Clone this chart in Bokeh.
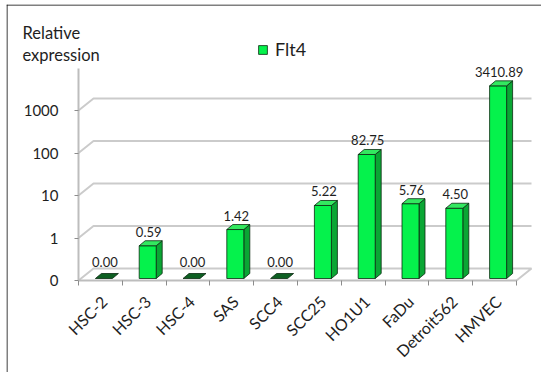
import math
from bokeh.plotting import figure
from bokeh.models import (LinearAxis, LogAxis, FixedTicker, Range1d, Label,
                          Legend, LegendItem, ColumnDataSource, Span)
from bokeh.embed import file_html
from bokeh.resources import INLINE
from bokeh.core.properties import value

# ---------------- data ----------------
categories = ["HSC-2", "HSC-3", "HSC-4", "SAS", "SCC4", "SCC25",
              "HO1U1", "FaDu", "Detroit562", "HMVEC"]
flt4 = [0.00, 0.59, 0.00, 1.42, 0.00, 5.22, 82.75, 5.76, 4.50, 3410.89]
y_ticks = [0.1, 1, 10, 100, 1000]
y_tick_labels = ["0", "1", "10", "100", "1000"]
series_name = "Flt4"
y_title = "Relative\nexpression"

# ---------------- layout constants (pixels) ----------------
W, H = 541, 372
FL, FT = 6, 4            # frame left / top
AX_X, AX_R = 78, 516     # pixel of x=0 and x=N on the front plane
Y0_PX, DEC = 280, 42.5   # pixel of axis floor, pixels per decade
N = len(categories)
PXU = (AX_R - AX_X) / N
FLOOR = y_ticks[0]

def fx(px):
    return px / PXU

def fy(px):
    return 10 ** (px / DEC)

FONT = "Lato"
TXT = "#1e1e1e"
GRID = "#cbcbcb"
AXC = "#bdbdbd"
TICKC = "#8c8c8c"

xr0 = -(AX_X - FL) / PXU
yr1 = FLOOR * 10 ** ((Y0_PX - FT) / DEC)
p = figure(width=W, height=H, output_backend="svg", toolbar_location=None,
           x_range=Range1d(xr0, N + (W - AX_R) / PXU),
           y_range=Range1d(FLOOR * 10 ** (-(H - Y0_PX) / DEC), yr1),
           y_axis_type="log", x_axis_location=None, y_axis_location=None,
           min_border_left=FL, min_border_top=FT, min_border_right=0,
           min_border_bottom=0)
p.grid.visible = False
p.outline_line_color = None
p.background_fill_color = "white"
p.border_fill_color = "white"

# outer box: only left and top edges fall inside the window
p.add_layout(Span(location=xr0 + fx(0.5), dimension="height",
                  line_color="black", line_width=1))
p.add_layout(Span(location=yr1 / fy(0.5), dimension="width",
                  line_color="black", line_width=1))

# ---------------- 3D wall & floor ----------------
wdx, wf = fx(15), fy(12)
wall_xs, wall_ys = [], []
for v in y_ticks[1:]:
    wall_xs.append([0, wdx, N + wdx])
    wall_ys.append([v, v * wf, v * wf])
p.multi_line(wall_xs, wall_ys, line_color=GRID, line_width=2)
p.multi_line([[0, wdx, N + wdx, N]],
             [[FLOOR, FLOOR * wf, FLOOR * wf, FLOOR]],
             line_color=GRID, line_width=2)

# ---------------- bars ----------------
shift, hw = fx(3.5), fx(8.5)
bdx, bf = fx(6), fy(5)
lift = fy(2)
front = dict(left=[], right=[], bottom=[], top=[])
side_xs, side_ys, top_xs, top_ys, top_col = [], [], [], [], []
lab = dict(x=[], y=[], text=[], dy=[])
for i, v in enumerate(flt4):
    xc = i + 0.5 + shift
    xl, xr = xc - hw, xc + hw
    b = FLOOR * lift
    t = max(v, FLOOR) * lift
    if v > 0:
        front["left"].append(xl); front["right"].append(xr)
        front["bottom"].append(b); front["top"].append(t)
        side_xs.append([xr, xr, xr + bdx, xr + bdx])
        side_ys.append([b, t, t * bf, b * bf])
        top_col.append("#33e860")
    else:
        top_col.append("#0d5f22")
    top_xs.append([xl, xr, xr + bdx, xl + bdx])
    top_ys.append([t, t, t * bf, t * bf])
    lab["x"].append(xc + fx(1))
    lab["y"].append(t * bf)
    lab["text"].append(f"{v:.2f}")
    lab["dy"].append(-4 if v > 0 else -7)

p.patches(side_xs, side_ys, fill_color="#0aa634", line_color="#0a2a10",
          line_width=0.8)
fr = p.quad(source=ColumnDataSource(front), left="left", right="right",
            bottom="bottom", top="top", fill_color="#05f24c",
            line_color="#0a2a10", line_width=0.8)
p.patches(top_xs, top_ys, fill_color=top_col, line_color="#0a2a10",
          line_width=0.8)
p.text(x="x", y="y", text="text", source=ColumnDataSource(lab),
       text_align="center", text_baseline="bottom", y_offset="dy",
       text_font=value(FONT), text_font_size="13px", text_color=TXT)

# ---------------- axes ----------------
yax = LogAxis(fixed_location=0, ticker=FixedTicker(ticks=y_ticks),
              bounds=(FLOOR, 10000))
yax.major_label_overrides = {t: s for t, s in zip(y_ticks, y_tick_labels)}
yax.axis_line_color = AXC
yax.axis_line_width = 2
yax.major_tick_line_color = TICKC
yax.major_tick_out = 4
yax.major_tick_in = 0
yax.minor_tick_line_color = None
yax.major_label_standoff = 16
yax.major_label_text_font = FONT
yax.major_label_text_font_size = "15px"
yax.major_label_text_color = TXT
p.add_layout(yax, "left")

lab_pos = [i + 0.5 + shift for i in range(N)]
xax = LinearAxis(fixed_location=FLOOR, ticker=FixedTicker(ticks=lab_pos),
                 bounds=(0, N))
xax.major_label_overrides = {c: s for c, s in zip(lab_pos, categories)}
xax.axis_line_color = AXC
xax.axis_line_width = 2
xax.major_tick_line_color = None
xax.minor_tick_line_color = None
xax.major_label_orientation = math.pi / 4
xax.major_label_standoff = 12
xax.major_label_text_font = FONT
xax.major_label_text_font_size = "16px"
xax.major_label_text_color = TXT
p.add_layout(xax, "below")

xticks = LinearAxis(fixed_location=FLOOR,
                    ticker=FixedTicker(ticks=list(range(N + 1))))
xticks.axis_line_color = None
xticks.major_tick_line_color = TICKC
xticks.major_tick_out = 5
xticks.major_tick_in = 0
xticks.minor_tick_line_color = None
xticks.major_label_text_alpha = 0
p.add_layout(xticks, "below")

# ---------------- texts ----------------
p.add_layout(Label(x=22 - FL, y=H - 22, x_units="screen", y_units="screen",
                   text=y_title, text_baseline="top", text_font=FONT,
                   text_font_size="16.5px", text_color=TXT,
                   text_line_height=1.1))

legend = Legend(items=[LegendItem(label=series_name, renderers=[fr])],
                location=(257 - FL, H - 60), padding=0, margin=0, spacing=0,
                glyph_width=11, glyph_height=11, label_height=11,
                label_standoff=7, border_line_color=None,
                background_fill_alpha=0, label_text_font=FONT,
                label_text_font_size="18px", label_text_color=TXT)
p.add_layout(legend, "center")

open("out.html", "w").write(file_html(p, INLINE))
